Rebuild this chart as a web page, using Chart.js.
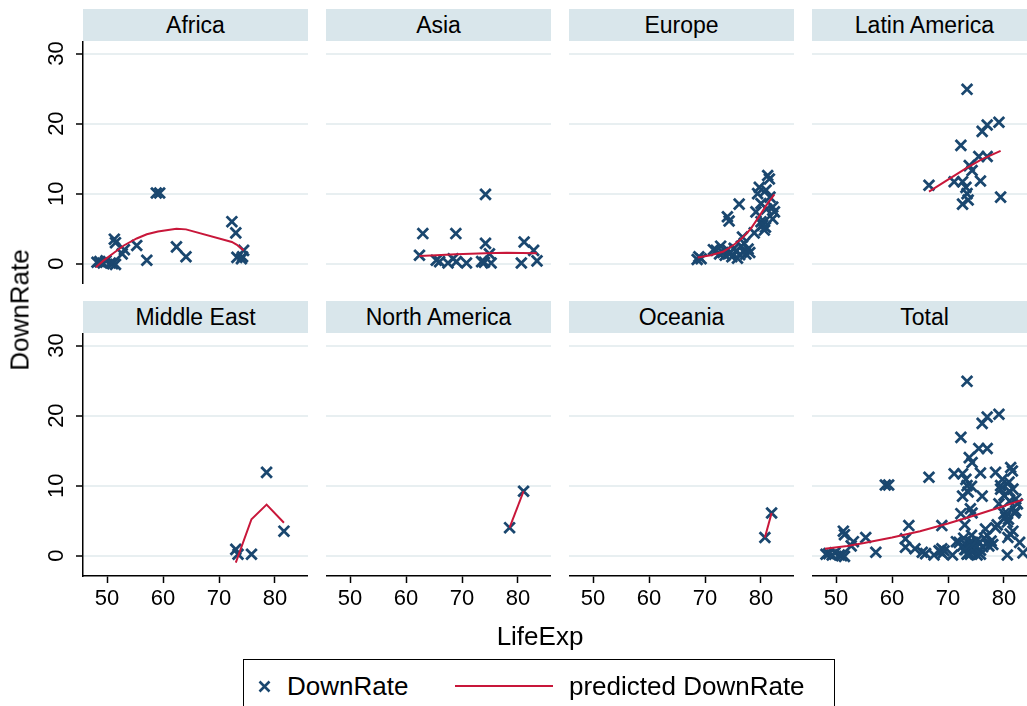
<!DOCTYPE html>
<html><head><meta charset="utf-8">
<script src="https://cdn.jsdelivr.net/npm/chart.js@4.4.1/dist/chart.umd.min.js"></script>
<style>
html,body{margin:0;padding:0;background:#fff;}
body{width:1027px;height:706px;overflow:hidden;position:relative;font-family:"Liberation Sans",Arial,sans-serif;color:#000;}
.bar{position:absolute;height:32px;background:#d9e6eb;font-size:23px;line-height:33px;text-align:center;white-space:nowrap;}
canvas{position:absolute;}
.t{position:absolute;white-space:nowrap;font-size:26px;}
</style></head>
<body>
<script>
const regions = ['Africa','Asia','Europe','Latin America','Middle East','North America','Oceania','Total'];
const xTicks = [50,60,70,80];
const yTicks = [0,10,20,30];

const africaPts = [[48.2,0.2],[48.7,0.3],[49.3,0.1],[49.8,0.4],[50.6,0.1],[51.0,0.0],[51.5,-0.1],[51.3,3.5],[51.5,3.0],[52.7,1.4],[53.1,2.0],[55.3,2.6],[57.1,0.5],[58.8,10.1],[59.4,10.1],[62.4,2.4],[64.1,1.0],[72.3,6.0],[73.0,4.4],[73.2,0.9],[74.0,0.7],[74.4,1.9],[74.2,1.0]];
const africaFit = [[48.0,-0.5],[49.3,0.4],[51.3,1.6],[53.0,2.6],[55.3,3.6],[57.1,4.2],[59.1,4.6],[62.4,5.0],[64.1,4.9],[72.3,3.1],[73.2,2.7],[74.4,1.9]];

const asiaPts = [[62.4,1.2],[63.0,4.3],[65.4,0.5],[66.0,0.3],[67.5,0.1],[68.4,0.7],[68.9,4.3],[69.0,0.3],[70.8,0.1],[73.5,0.3],[74.0,0.2],[74.2,9.9],[74.2,2.9],[74.9,1.4],[75.2,0.1],[80.6,0.1],[81.1,3.1],[82.8,1.9],[83.4,0.4]];
const asiaFit = [[62.4,1.1],[65.4,1.2],[68.9,1.35],[74.2,1.5],[78.0,1.55],[83.4,1.5]];

const europePts = [[68.6,0.6],[68.9,1.0],[69.3,0.7],[71.5,2.0],[72.0,1.9],[72.6,1.4],[72.8,2.5],[73.2,1.6],[73.6,1.2],[74.0,2.0],[74.4,1.5],[74.8,1.0],[75.2,2.2],[75.5,1.8],[75.8,0.8],[76.2,1.3],[76.5,2.5],[76.7,3.8],[77.0,2.9],[77.3,1.4],[77.7,2.1],[78.0,1.6],[74.0,6.7],[74.3,6.1],[76.1,8.5],[78.8,4.4],[79.1,7.4],[79.4,10.0],[79.7,10.9],[80.0,8.6],[80.0,6.0],[80.3,5.5],[80.6,4.8],[80.6,6.0],[80.9,10.5],[81.2,12.6],[81.5,12.1],[81.6,9.5],[82.1,8.1],[82.1,6.4],[82.4,7.4],[80.8,5.2],[81.0,7.8]];
const europeFit = [[68.7,0.9],[71.0,1.2],[73.2,1.7],[75.0,2.6],[76.7,3.7],[78.2,5.0],[79.7,6.8],[81.0,8.4],[82.4,9.9]];

const latinPts = [[66.6,11.2],[71.1,11.7],[72.3,16.9],[72.6,11.7],[72.6,8.5],[73.2,10.9],[73.4,24.9],[73.4,10.0],[73.6,9.1],[73.8,14.0],[74.3,13.3],[75.5,15.3],[75.8,11.8],[76.1,18.9],[77.0,19.8],[77.0,15.3],[79.1,20.2],[79.4,9.5]];
const latinFit = [[66.6,10.3],[70.0,12.0],[73.2,13.6],[76.0,14.9],[79.4,16.1]];

const meastPts = [[73.0,0.9],[73.4,0.2],[75.8,0.2],[78.5,11.9],[81.6,3.5]];
const meastFit = [[73.0,-1.0],[75.8,5.2],[78.5,7.3],[81.6,4.7]];

const namPts = [[78.5,4.0],[81.0,9.2]];
const namFit = [[78.5,4.0],[81.0,9.2]];

const oceaniaPts = [[80.7,2.6],[81.9,6.1]];
const oceaniaFit = [[80.7,2.6],[81.9,6.1]];

const totalPts = [].concat(africaPts, asiaPts, europePts, latinPts, meastPts, namPts, oceaniaPts);
const totalFit = [[48.0,1.0],[52.0,1.4],[55.0,1.8],[60.0,2.6],[65.0,3.5],[70.0,4.6],[75.0,5.8],[80.0,7.1],[83.4,8.0]];

const panelPts = [africaPts, asiaPts, europePts, latinPts, meastPts, namPts, oceaniaPts, totalPts];
const panelFit = [africaFit, asiaFit, europeFit, latinFit, meastFit, namFit, oceaniaFit, totalFit];

const NAVY = '#1a476f', RED = '#c8173a', GRID = '#e8eff1';
Chart.defaults.font.family = "'Liberation Sans', Arial, sans-serif";
Chart.defaults.color = '#000';

const colLeft = [83, 326, 569, 812];
const plotTop = [41, 333];
const PW = 225, PH = 243, YAXW = 83, XAXH = 45;

function toXY(a){ return a.map(p => ({x:p[0], y:p[1]})); }
function zeroPad(s){ s.paddingTop = 0; s.paddingBottom = 0; s.paddingLeft = 0; s.paddingRight = 0; }

regions.forEach((name, i) => {
  const col = i % 4, row = Math.floor(i / 4);
  const bar = document.createElement('div');
  bar.className = 'bar';
  bar.textContent = name;
  bar.style.left = colLeft[col] + 'px';
  bar.style.top = (plotTop[row] - 32) + 'px';
  bar.style.width = PW + 'px';
  document.body.appendChild(bar);

  const cv = document.createElement('canvas');
  const left = col === 0 ? 0 : colLeft[col];
  const w = col === 0 ? YAXW + PW : PW;
  const h = row === 1 ? PH + XAXH : PH;
  cv.width = w; cv.height = h;
  cv.style.left = left + 'px'; cv.style.top = plotTop[row] + 'px';
  cv.style.width = w + 'px'; cv.style.height = h + 'px';
  document.body.appendChild(cv);

  const showX = row === 1, showY = col === 0;
  new Chart(cv, {
    type: 'scatter',
    data: { datasets: [
      { data: toXY(panelFit[i]), showLine: true, borderColor: RED, borderWidth: 2, pointRadius: 0, fill: false, clip: false },
      { data: toXY(panelPts[i]), showLine: false, pointStyle: 'crossRot', pointRadius: 7.5, borderWidth: 2.8, borderColor: NAVY, backgroundColor: NAVY, clip: false }
    ]},
    options: {
      responsive: false, animation: false, devicePixelRatio: 1, events: [],
      layout: { padding: 0, autoPadding: false },
      plugins: { legend: { display: false }, tooltip: { enabled: false } },
      scales: {
        x: {
          type: 'linear', min: 45.7, max: 85.9, display: showX,
          afterBuildTicks: s => { s.ticks = xTicks.map(v => ({value: v})); },
          afterFit: s => { s.height = showX ? XAXH : 0; zeroPad(s); },
          ticks: { display: showX, font: { size: 22 }, color: '#000', padding: 3, maxRotation: 0 },
          grid: { drawOnChartArea: false, drawTicks: true, tickLength: 7, tickColor: '#000', tickWidth: 1.5 },
          border: { display: showX, color: '#000', width: 1.5 }
        },
        y: {
          type: 'linear', min: -2.9, max: 31.8,
          afterBuildTicks: s => { s.ticks = yTicks.map(v => ({value: v})); },
          afterFit: s => { s.width = showY ? YAXW : 0; zeroPad(s); },
          ticks: { display: showY, font: { size: 22 }, color: '#000', padding: 7, minRotation: 90, maxRotation: 90, crossAlign: 'center' },
          grid: { color: GRID, lineWidth: 2, drawTicks: showY, tickLength: 7, tickColor: '#000', tickWidth: 1.5 },
          border: { display: showY, color: '#000', width: 1.5 }
        }
      }
    }
  });
});
</script>
<div class="t" style="left:20px;top:310px;transform:translate(-50%,-50%) rotate(-90deg);">DownRate</div>
<div class="t" style="left:540px;top:636px;transform:translate(-50%,-50%);">LifeExp</div>
<div style="position:absolute;left:243px;top:659px;width:592px;height:70px;border:1.5px solid #000;box-sizing:border-box;"></div>
<svg style="position:absolute;left:258px;top:680px;" width="13" height="13"><path d="M1.5 1.5L11.5 11.5M11.5 1.5L1.5 11.5" stroke="#1a476f" stroke-width="2.6"/></svg>
<div class="t" style="left:287px;top:686px;transform:translateY(-50%);">DownRate</div>
<div style="position:absolute;left:455px;top:685px;width:98px;height:2px;background:#c8173a;"></div>
<div class="t" style="left:569px;top:686px;transform:translateY(-50%);">predicted DownRate</div>
</body></html>
